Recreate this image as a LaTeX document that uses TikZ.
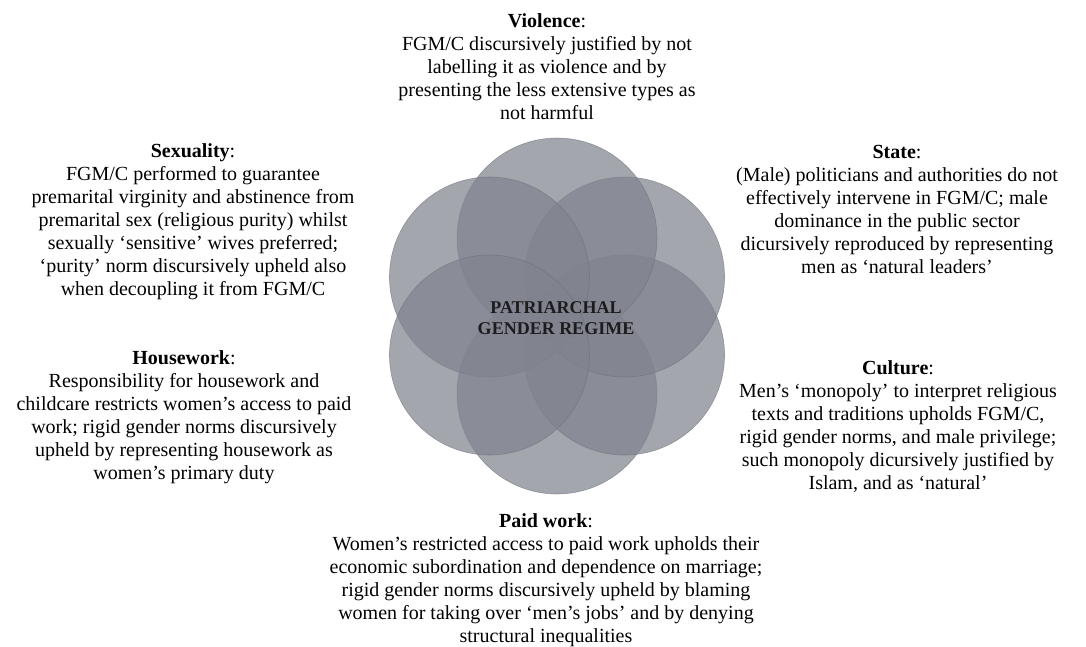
\documentclass[tikz,border=0pt]{standalone}
\usepackage{fontspec}
\setmainfont{Liberation Serif}
\definecolor{ringgrey}{RGB}{128,131,142}
\definecolor{ringline}{RGB}{105,108,118}
\definecolor{regimetext}{RGB}{28,28,30}
\tikzset{
  ring/.style={fill=ringgrey, fill opacity=0.72, draw=ringline, draw opacity=0.55, line width=0.6pt},
  theme/.style={align=center, inner sep=0pt, anchor=north, font=\fontsize{20}{23}\selectfont},
  regime/.style={align=center, inner sep=0pt, text=regimetext, font=\fontsize{18}{21}\selectfont\bfseries},
}
\begin{document}
\begin{tikzpicture}[x=1pt,y=-1pt]
\useasboundingbox (0,0) rectangle (1086,646);
% six overlapping rings
\coordinate (hub) at (557,316);
\foreach \a in {90,30,-30,-90,-150,150}
  \path[ring] (hub) ++(\a:78) circle[radius=100];
\node[regime] (regime) at (556,318) {PATRIARCHAL\\GENDER REGIME};
% themes
\node[theme] (violence) at (547,13) {\textbf{Violence}:\\FGM/C discursively justified by not\\labelling it as violence and by\\presenting the less extensive types as\\not harmful};
\node[theme] (sexuality) at (193,143) {\textbf{Sexuality}:\\FGM/C performed to guarantee\\premarital virginity and abstinence from\\premarital sex (religious purity) whilst\\sexually ‘sensitive’ wives preferred;\\‘purity’ norm discursively upheld also\\when decoupling it from FGM/C};
\node[theme] (state) at (897,145) {\textbf{State}:\\(Male) politicians and authorities do not\\effectively intervene in FGM/C; male\\dominance in the public sector\\dicursively reproduced by representing\\men as ‘natural leaders’};
\node[theme] (housework) at (184,350) {\textbf{Housework}:\\Responsibility for housework and\\childcare restricts women’s access to paid\\work; rigid gender norms discursively\\upheld by representing housework as\\women’s primary duty};
\node[theme] (culture) at (898,360) {\textbf{Culture}:\\Men’s ‘monopoly’ to interpret religious\\texts and traditions upholds FGM/C,\\rigid gender norms, and male privilege;\\such monopoly dicursively justified by\\Islam, and as ‘natural’};
\node[theme] (paidwork) at (546,513) {\textbf{Paid work}:\\Women’s restricted access to paid work upholds their\\economic subordination and dependence on marriage;\\rigid gender norms discursively upheld by blaming\\women for taking over ‘men’s jobs’ and by denying\\structural inequalities};
\end{tikzpicture}
\end{document}
